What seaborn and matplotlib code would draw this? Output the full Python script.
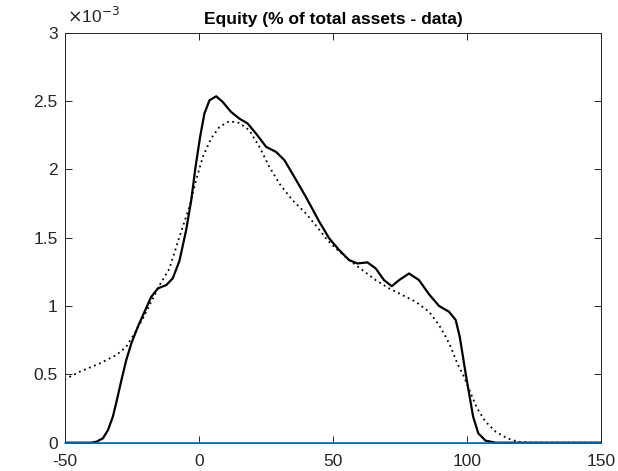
import matplotlib
matplotlib.use("Agg")
import matplotlib.pyplot as plt
import seaborn as sns
import pandas as pd
from matplotlib.ticker import FuncFormatter, FixedLocator

# Values (density, in units of 1e-3)
solid_x = [-50, -40, -38.1, -35.7, -33.8, -32, -30.5, -28.8, -27, -25.1, -22.7, -20.2, -17.7,
           -15.2, -12.1, -9.7, -7.2, -4.7, -2.8, -1.2, 0.5, 2.1, 4, 6.5, 8.9, 12, 15.1, 18.2,
           21.3, 25.1, 28.8, 31.9, 35.6, 39.9, 44.9, 48.6, 52.3, 56, 59.1, 62.8, 65.9, 69,
           71.9, 74.6, 78.3, 82, 85.8, 89.5, 93.2, 95.7, 97.2, 98.4, 99.6, 100.9, 102.2,
           104.1, 106.8, 110.6, 150]
solid_y = [0, 0, 0.007, 0.032, 0.093, 0.19, 0.312, 0.458, 0.605, 0.727, 0.848, 0.958, 1.067,
           1.129, 1.153, 1.202, 1.33, 1.555, 1.774, 2.018, 2.237, 2.408, 2.505, 2.534, 2.493, 2.42, 2.371, 2.335,
           2.262, 2.164, 2.127, 2.067, 1.944, 1.798, 1.616, 1.494, 1.409, 1.336, 1.311, 1.319, 1.275, 1.189,
           1.145, 1.189, 1.238, 1.19, 1.085, 1.0, 0.958, 0.897, 0.775, 0.629, 0.482, 0.336, 0.19,
           0.069, 0.015, 0, 0]

dotted_x = [-50, -44.3, -36.9, -30.7, -27, -23.9, -20.8, -17.7, -14.6, -11, -7.2, -3.5, -1,
            1.5, 4.6, 7.7, 11.4, 15.1, 18.8, 22.6, 26.3, 30, 34.9, 39.9, 44.2, 48, 51.1, 56,
            61, 65.9, 70.9, 75.8, 80.8, 85.8, 89.5, 92, 93.8, 96.3, 98.8, 101.3, 103.7, 106.8,
            110.6, 114.9, 119.2, 124, 150]
dotted_y = [0.463, 0.519, 0.58, 0.641, 0.702, 0.8, 0.909, 1.031, 1.153, 1.27, 1.506, 1.725, 1.92,
            2.091, 2.225, 2.31, 2.352, 2.339, 2.286, 2.164, 2.018, 1.896, 1.774, 1.677, 1.575, 1.48, 1.42, 1.336,
            1.262, 1.189, 1.129, 1.08, 1.031, 0.958, 0.86, 0.775, 0.702, 0.58, 0.482, 0.361, 0.251, 0.154,
            0.08, 0.032, 0.005, 0, 0]

base_x = [-50, 150]
base_y = [0, 0]

x_ticks = [-50, 0, 50, 100, 150]
y_ticks = [0, 0.5, 1, 1.5, 2, 2.5, 3]
title = "Equity (% of total assets - data)"

sns.set_theme(style="white")
plt.rcParams['font.family'] = ['Liberation Sans', 'DejaVu Sans']

fig = plt.figure(figsize=(6.18, 4.71), dpi=100)
ax = fig.add_axes([0.1044, 0.0601, 0.8689, 0.8707])

df_s = pd.DataFrame({"x": solid_x, "y": solid_y})
df_d = pd.DataFrame({"x": dotted_x, "y": dotted_y})
df_b = pd.DataFrame({"x": base_x, "y": base_y})

sns.lineplot(data=df_d, x="x", y="y", ax=ax, color="black", linestyle=(0, (1, 2)),
             linewidth=1.3, sort=False)
sns.lineplot(data=df_s, x="x", y="y", ax=ax, color="black", linewidth=1.6, sort=False)
sns.lineplot(data=df_b, x="x", y="y", ax=ax, color="#0072BD", linewidth=1.2, sort=False,
             clip_on=False, zorder=5)

ax.set_xlim(-50, 150)
ax.set_ylim(0, 3)
ax.xaxis.set_major_locator(FixedLocator(x_ticks))
ax.yaxis.set_major_locator(FixedLocator(y_ticks))
fmt = FuncFormatter(lambda v, p: ("%g" % v).replace("\u2212", "-"))
ax.xaxis.set_major_formatter(fmt)
ax.yaxis.set_major_formatter(fmt)
ax.set_xlabel("")
ax.set_ylabel("")

for s in ax.spines.values():
    s.set_visible(True)
    s.set_color("#262626")
    s.set_linewidth(0.7)
ax.tick_params(direction="in", length=5, width=0.7, color="#262626", labelcolor="#262626",
               labelsize=12.5, top=True, right=True, bottom=True, left=True)
ax.tick_params(axis="x", pad=8)
ax.tick_params(axis="y", pad=5)

ax.set_title(title, fontsize=12.5, fontweight="bold", color="black", pad=6)
fig.text(0.108, 0.945, r"$\times$10$^{-3}$", fontsize=12.5, color="#262626", ha="left", va="bottom")

fig.savefig("out.png", dpi=100)
